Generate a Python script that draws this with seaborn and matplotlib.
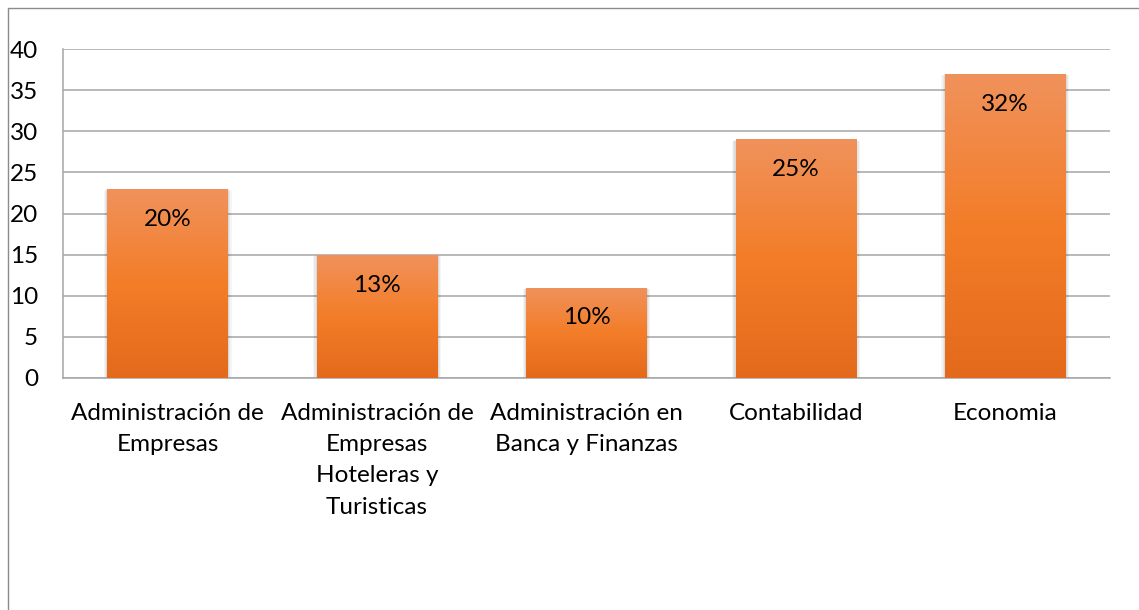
import numpy as np
import pandas as pd
import matplotlib
matplotlib.use("Agg")
import matplotlib.pyplot as plt
import seaborn as sns
from matplotlib.colors import LinearSegmentedColormap
from matplotlib.patches import Rectangle
from matplotlib.lines import Line2D

# Data
carreras = [
    "Administración de\nEmpresas",
    "Administración de\nEmpresas\nHoteleras y\nTuristicas",
    "Administración en\nBanca y Finanzas",
    "Contabilidad",
    "Economia",
]
estudiantes = [23, 15, 11, 29, 37]
porcentajes = ["20%", "13%", "10%", "25%", "32%"]
y_ticks = [0, 5, 10, 15, 20, 25, 30, 35, 40]

df = pd.DataFrame({"carrera": carreras, "n": estudiantes})

sns.set_theme(style="white")
plt.rcParams["font.family"] = ["Lato", "DejaVu Sans"]

fig = plt.figure(figsize=(11.39, 6.10), dpi=100)
ax = fig.add_axes([63 / 1139, 1 - 378 / 610, 1047 / 1139, 329 / 610])

sns.barplot(data=df, x="carrera", y="n", color="#F07F2F", width=0.575,
            ax=ax, zorder=3)

# vertical gradient on each bar, plus a soft shadow
grad = LinearSegmentedColormap.from_list("naranja", ["#E36A1C", "#F37D28", "#F0925C"])
img = np.linspace(0, 1, 256).reshape(-1, 1)
for bar in list(ax.patches):
    x0, y0 = bar.get_x(), bar.get_y()
    w, h = bar.get_width(), bar.get_height()
    for k, a in enumerate([0.06, 0.05, 0.04]):
        ax.add_patch(Rectangle((x0 - 0.006 * (k + 1), y0 - 0.12 * (k + 1)),
                               w + 0.012 * (k + 1), h + 0.05 * (k + 1),
                               color="black", alpha=a, lw=0, zorder=2))
    bar.set_facecolor("none")
    bar.set_edgecolor("none")
    im = ax.imshow(img, cmap=grad, origin="lower", aspect="auto",
                   extent=[x0, x0 + w, y0, y0 + h], zorder=3)
    im.set_clip_path(bar)

for i, (v, p) in enumerate(zip(estudiantes, porcentajes)):
    ax.text(i, v - 3.7, p, ha="center", va="center", fontsize=17.5,
            color="black", zorder=5)

ax.set_xlim(-0.5, len(carreras) - 0.5)
ax.set_ylim(0, 40)
ax.set_yticks(y_ticks)
ax.yaxis.grid(True, color="#A6A6A6", lw=1.1, zorder=0)
ax.xaxis.grid(False)
ax.set_xlabel("")
ax.set_ylabel("")
for side in ["top", "right"]:
    ax.spines[side].set_visible(False)
for side in ["left", "bottom"]:
    ax.spines[side].set_color("#A6A6A6")
    ax.spines[side].set_linewidth(1.1)
ax.tick_params(axis="y", length=0, pad=18, labelsize=17.5, labelcolor="black")
ax.tick_params(axis="x", length=0, pad=18, labelsize=17.5, labelcolor="black")
for lab in ax.get_xticklabels():
    lab.set_linespacing(1.6)
    lab.set_va("top")
    lab.set_ha("center")
    lab.set_multialignment("center")

# outer chart border (only left and top visible in the crop)
fig.add_artist(Line2D([8 / 1139, 8 / 1139], [0, 1 - 8 / 610],
                      transform=fig.transFigure, color="#8C8C8C", lw=1))
fig.add_artist(Line2D([8 / 1139, 1], [1 - 8 / 610, 1 - 8 / 610],
                      transform=fig.transFigure, color="#8C8C8C", lw=1))

fig.savefig("out.png", dpi=100)
